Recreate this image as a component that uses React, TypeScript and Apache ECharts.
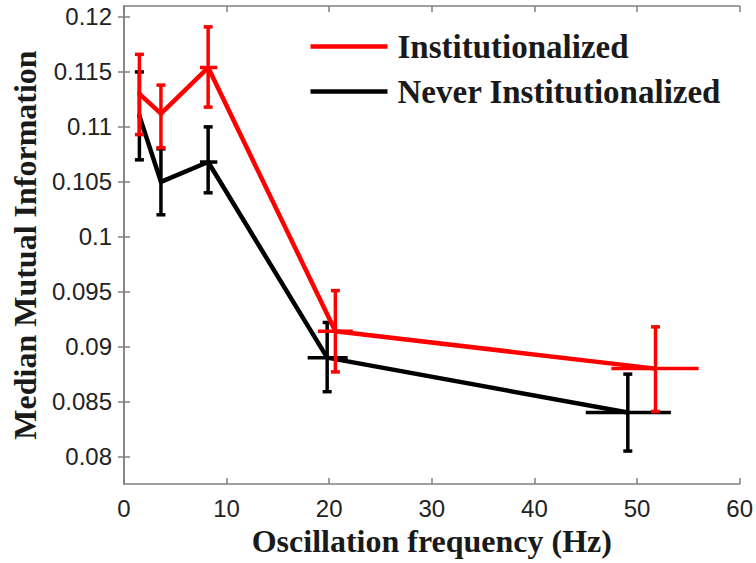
import React, { useEffect, useRef } from "react";
import * as echarts from "echarts";

const seriesNames = ["Institutionalized", "Never Institutionalized"];
const seriesColors = ["#ff0000", "#000000"];

// Institutionalized
const freqInst = [1.5, 3.6, 8.2, 20.6, 51.8];
const meanInst = [0.113, 0.1112, 0.1154, 0.0914, 0.088];
const lowInst = [0.1093, 0.1081, 0.1118, 0.0877, 0.0841];
const highInst = [0.1166, 0.1138, 0.1191, 0.0951, 0.0918];
const xLowInst = [1.3, 3.4, 7.4, 18.9, 47.5];
const xHighInst = [1.7, 3.8, 9.1, 22.3, 56.0];

// Never Institutionalized
const freqNever = [1.5, 3.6, 8.2, 19.8, 49.1];
const meanNever = [0.111, 0.105, 0.1068, 0.089, 0.084];
const lowNever = [0.107, 0.102, 0.104, 0.0859, 0.0805];
const highNever = [0.115, 0.108, 0.11, 0.0922, 0.0875];
const xLowNever = [1.3, 3.4, 7.4, 17.9, 45.0];
const xHighNever = [1.7, 3.8, 9.1, 21.8, 53.3];

const yTicks = [0.08, 0.085, 0.09, 0.095, 0.1, 0.105, 0.11, 0.115, 0.12];
const yTickLabels = ["0.08", "0.085", "0.09", "0.095", "0.1", "0.105", "0.11", "0.115", "0.12"];

const GRID = { left: 124, right: 15, top: 6, bottom: 79 };

function errorSeries(name: string, color: string, f: number[], m: number[], lo: number[], hi: number[], xl: number[], xh: number[]) {
  const data = f.map((x, i) => [x, m[i], lo[i], hi[i], xl[i], xh[i]]);
  return {
    type: "custom",
    name,
    z: color === "#000000" ? 2 : 4,
    renderItem: (params: any, api: any) => {
      const x = api.value(0);
      const y = api.value(1);
      const p = api.coord([x, y]);
      const pLo = api.coord([x, api.value(2)]);
      const pHi = api.coord([x, api.value(3)]);
      const pXl = api.coord([api.value(4), y]);
      const pXh = api.coord([api.value(5), y]);
      const cap = 4.5;
      const style = { stroke: color, lineWidth: 3.5 };
      return {
        type: "group",
        children: [
          { type: "line", shape: { x1: p[0], y1: pLo[1], x2: p[0], y2: pHi[1] }, style },
          { type: "line", shape: { x1: p[0] - cap, y1: pLo[1], x2: p[0] + cap, y2: pLo[1] }, style },
          { type: "line", shape: { x1: p[0] - cap, y1: pHi[1], x2: p[0] + cap, y2: pHi[1] }, style },
          { type: "line", shape: { x1: pXl[0], y1: p[1], x2: pXh[0], y2: p[1] }, style },
        ],
      };
    },
    data,
  };
}

export default function App() {
  const ref = useRef<HTMLDivElement>(null);
  useEffect(() => {
    document.body.style.margin = "0";
    const chart = echarts.init(ref.current!, null, { renderer: "svg" });
    const axisGray = "#808080";
    const option: any = {
      animation: false,
      backgroundColor: "#ffffff",
      grid: { ...GRID },
      xAxis: [
        {
          type: "value",
          min: 0,
          max: 60,
          interval: 10,
          name: "Oscillation frequency (Hz)",
          nameLocation: "middle",
          nameGap: 39,
          nameTextStyle: { fontFamily: "Liberation Serif", fontWeight: "bold", fontSize: 32, color: "#1a1a1a" },
          axisLine: { show: true, lineStyle: { color: axisGray, width: 1.5 } },
          axisTick: { show: true, inside: true, length: 6, lineStyle: { color: axisGray, width: 1.5 } },
          axisLabel: { fontFamily: "Liberation Sans", fontSize: 24, color: "#222", margin: 12 },
          splitLine: { show: false },
        },
        {
          type: "value",
          position: "top",
          min: 0,
          max: 60,
          interval: 10,
          axisLine: { show: true, lineStyle: { color: axisGray, width: 1.5 } },
          axisTick: { show: true, inside: true, length: 6, lineStyle: { color: axisGray, width: 1.5 } },
          axisLabel: { show: false },
          splitLine: { show: false },
        },
      ],
      yAxis: [
        {
          type: "value",
          min: 0.0775,
          max: 0.121,
          name: "Median Mutual Information",
          nameLocation: "middle",
          nameGap: 82,
          nameTextStyle: { fontFamily: "Liberation Serif", fontWeight: "bold", fontSize: 32, color: "#1a1a1a" },
          axisLine: { show: true, lineStyle: { color: axisGray, width: 1.5 } },
          axisTick: { show: true, inside: true, length: 6, customValues: yTicks, lineStyle: { color: axisGray, width: 1.5 } },
          axisLabel: {
            fontFamily: "Liberation Sans",
            fontSize: 24,
            color: "#222",
            margin: 12,
            customValues: yTicks,
            formatter: (v: number) => {
              const i = yTicks.findIndex((t) => Math.abs(t - v) < 1e-9);
              return i >= 0 ? yTickLabels[i] : "";
            },
          },
          splitLine: { show: false },
        },
        {
          type: "value",
          position: "right",
          min: 0.0775,
          max: 0.121,
          axisLine: { show: true, lineStyle: { color: axisGray, width: 1.5 } },
          axisTick: { show: true, inside: true, length: 6, customValues: yTicks, lineStyle: { color: axisGray, width: 1.5 } },
          axisLabel: { show: false },
          splitLine: { show: false },
        },
      ],
      series: [
        {
          type: "line",
          name: seriesNames[1],
          data: freqNever.map((x, i) => [x, meanNever[i]]),
          symbol: "none",
          lineStyle: { color: seriesColors[1], width: 4.5 },
          z: 1,
        },
        errorSeries(seriesNames[1], seriesColors[1], freqNever, meanNever, lowNever, highNever, xLowNever, xHighNever),
        {
          type: "line",
          name: seriesNames[0],
          data: freqInst.map((x, i) => [x, meanInst[i]]),
          symbol: "none",
          lineStyle: { color: seriesColors[0], width: 4.5 },
          z: 3,
        },
        errorSeries(seriesNames[0], seriesColors[0], freqInst, meanInst, lowInst, highInst, xLowInst, xHighInst),
      ],
      graphic: [0, 1].map((k) => ({
        type: "group",
        left: 308,
        top: 30 + k * 45,
        children: [
          { type: "line", shape: { x1: 0, y1: 18, x2: 77, y2: 18 }, style: { stroke: seriesColors[k], lineWidth: 4.5 } },
          {
            type: "text",
            x: 87,
            y: 18,
            style: {
              text: seriesNames[k],
              fill: "#1a1a1a",
              font: "bold 33px 'Liberation Serif'",
              textVerticalAlign: "middle",
            },
          },
        ],
      })),
    };
    chart.setOption(option);
    return () => chart.dispose();
  }, []);
  return <div ref={ref} style={{ width: 756, height: 563 }} />;
}
